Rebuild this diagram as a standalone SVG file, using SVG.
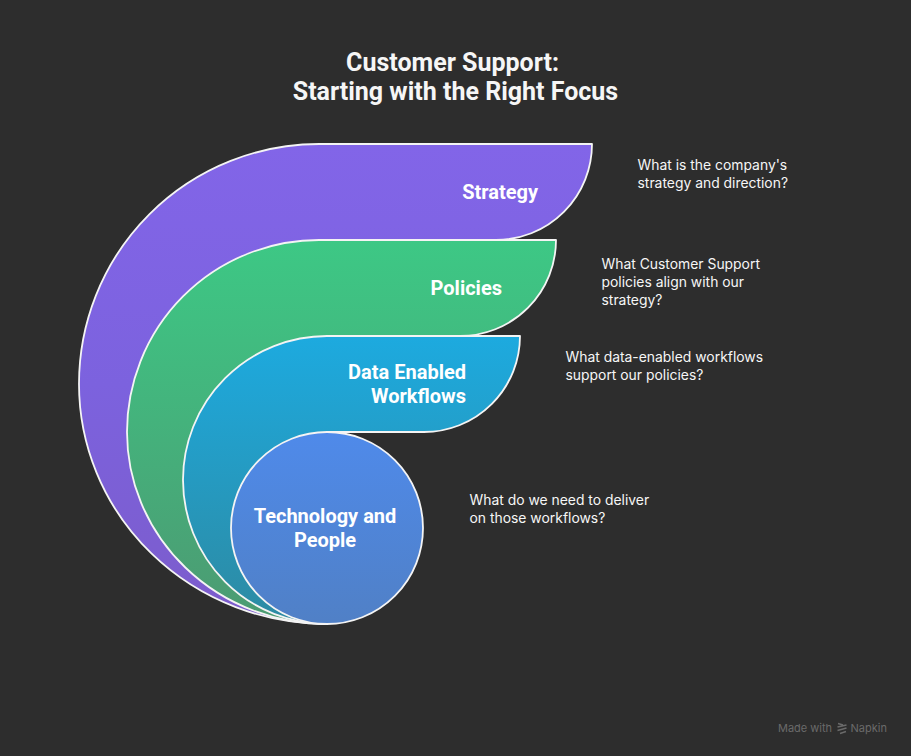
<svg xmlns="http://www.w3.org/2000/svg" width="911" height="756" viewBox="0 0 911 756">
<style>
.shape{stroke:#f4f4f4;stroke-width:1.800;stroke-linejoin:round}
.label{font-family:Roboto,"Liberation Sans",sans-serif;font-weight:700;font-size:20px;fill:#fff;text-anchor:end}
.center{text-anchor:middle}
.desc{font-family:Inter,"Liberation Sans",sans-serif;font-size:13.900px;fill:#f6f6f6}
.title{font-family:Roboto,"Liberation Sans",sans-serif;font-weight:700;font-size:25px;fill:#f6f6f6;text-anchor:middle}
.brand{font-family:Inter,"Liberation Sans",sans-serif;font-size:11px;fill:#6a6a6a}
</style>
<defs>
<linearGradient id="gp" x1="0" y1="0" x2="0" y2="1"><stop offset="0" stop-color="#8265E8"/><stop offset="0.5" stop-color="#7C62DE"/><stop offset="1" stop-color="#7C5CCB"/></linearGradient>
<linearGradient id="gg" x1="0" y1="0" x2="0" y2="1"><stop offset="0" stop-color="#3DC885"/><stop offset="1" stop-color="#4C9A72"/></linearGradient>
<linearGradient id="gb" x1="0" y1="0" x2="0" y2="1"><stop offset="0" stop-color="#1DAADF"/><stop offset="1" stop-color="#2D8AA2"/></linearGradient>
<linearGradient id="gc" x1="0" y1="0" x2="0" y2="1"><stop offset="0" stop-color="#4F8AEA"/><stop offset="1" stop-color="#5080C6"/></linearGradient>
</defs>
<rect width="911" height="756" fill="#2d2d2d"/>
<g id="title"><text class="title" x="452.500" y="71">Customer Support:</text><text class="title" x="455.500" y="100">Starting with the Right Focus</text></g>
<g id="node-strategy"><path class="shape" fill="url(#gp)" d="M592 144H319A240 240 0 0 0 79 384A248 240 0 0 0 327 624V240H496A96 96 0 0 0 592 144Z"/><text class="label" x="538" y="199">Strategy</text><text class="desc" x="637.500" y="170">What is the company's</text><text class="desc" x="637.500" y="188">strategy and direction?</text></g>
<g id="node-policies"><path class="shape" fill="url(#gg)" d="M556 240H319A192 192 0 0 0 127 432A200 192 0 0 0 327 624V336H460A96 96 0 0 0 556 240Z"/><text class="label" x="502" y="295">Policies</text><text class="desc" x="601.500" y="269">What Customer Support</text><text class="desc" x="601.500" y="287">policies align with our</text><text class="desc" x="601.500" y="305">strategy?</text></g>
<g id="node-data"><path class="shape" fill="url(#gb)" d="M520 336H327A144 144 0 0 0 183 480A144 144 0 0 0 327 624V432H424A96 96 0 0 0 520 336Z"/><text class="label" x="466" y="379">Data Enabled</text><text class="label" x="466" y="403">Workflows</text><text class="desc" x="565.500" y="362">What data-enabled workflows</text><text class="desc" x="565.500" y="380">support our policies?</text></g>
<g id="node-technology"><circle class="shape" fill="url(#gc)" cx="327" cy="528" r="96"/><text class="label center" x="325" y="523">Technology and</text><text class="label center" x="325" y="547">People</text><text class="desc" x="469.500" y="505">What do we need to deliver</text><text class="desc" x="469.500" y="523">on those workflows?</text></g>
<g id="connectors"></g>
<g id="brand"><text class="brand" x="778" y="732">Made with</text><path d="M838 723.500l5 1.500M837.500 727l9-2M837.500 730.500l9-2.500M840 733.500l6-2" fill="none" stroke="#6a6a6a" stroke-width="1.500"/><text class="brand" x="850.500" y="732">Napkin</text></g>
</svg>
